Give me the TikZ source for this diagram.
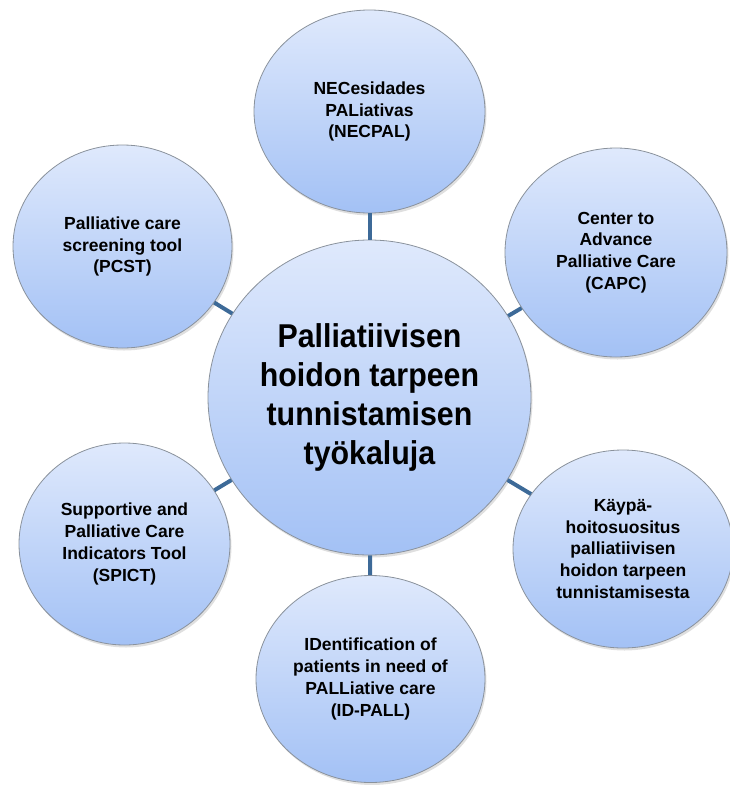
\documentclass[tikz,border=0pt]{standalone}
\usepackage{fontspec}
\setmainfont{Liberation Sans}
\newfontfamily\centralfont{Liberation Sans}[FakeStretch=0.92]
\usetikzlibrary{shapes.geometric,shadows}
\definecolor{circtop}{HTML}{DFE9FC}
\definecolor{circbot}{HTML}{A3C1F5}
\definecolor{circline}{HTML}{8A929C}
\definecolor{conn}{HTML}{3D6A98}
\begin{document}
\begin{tikzpicture}[x=1pt,y=-1pt,
  bubble/.style={ellipse, draw=circline, line width=0.8pt,
    top color=circtop, bottom color=circbot, inner sep=0pt, align=center,
    font=\bfseries\fontsize{17.5}{21.7}\selectfont,
    drop shadow={shadow xshift=1.5pt, shadow yshift=-2.5pt, opacity=0.25}},
  link/.style={draw=conn, line width=4pt}]
\useasboundingbox (0,0) rectangle (730,785);
\node[bubble, minimum width=323pt, minimum height=315pt,
      font=\centralfont\bfseries\fontsize{33}{39}\selectfont] (c) at (369.5,397.5)
  {Palliatiivisen\\hoidon tarpeen\\tunnistamisen\\työkaluja};
\node[bubble, minimum width=231pt, minimum height=203pt] (necpal) at (369.5,111.5)
  {NECesidades\\PALiativas\\(NECPAL)};
\node[bubble, minimum width=219pt, minimum height=203pt] (pcst) at (122.5,246.5)
  {Palliative care\\screening tool\\(PCST)};
\node[bubble, minimum width=222pt, minimum height=209pt] (capc) at (616,252.5)
  {Center to\\Advance\\Palliative Care\\(CAPC)};
\node[bubble, minimum width=211pt, minimum height=202pt] (spict) at (124.5,544)
  {Supportive and\\Palliative Care\\Indicators Tool\\(SPICT)};
\node[bubble, minimum width=220pt, minimum height=198pt] (kaypa) at (623,549)
  {Käypä-\\hoitosuositus\\palliatiivisen\\hoidon tarpeen\\tunnistamisesta};
\node[bubble, minimum width=229pt, minimum height=207pt] (idpall) at (370.5,679)
  {IDentification of\\patients in need of\\PALLiative care\\(ID-PALL)};
\draw[link] (c) -- (necpal);
\draw[link] (c) -- (pcst);
\draw[link] (c) -- (capc);
\draw[link] (c) -- (spict);
\draw[link] (c) -- (kaypa);
\draw[link] (c) -- (idpall);
\end{tikzpicture}
\end{document}
